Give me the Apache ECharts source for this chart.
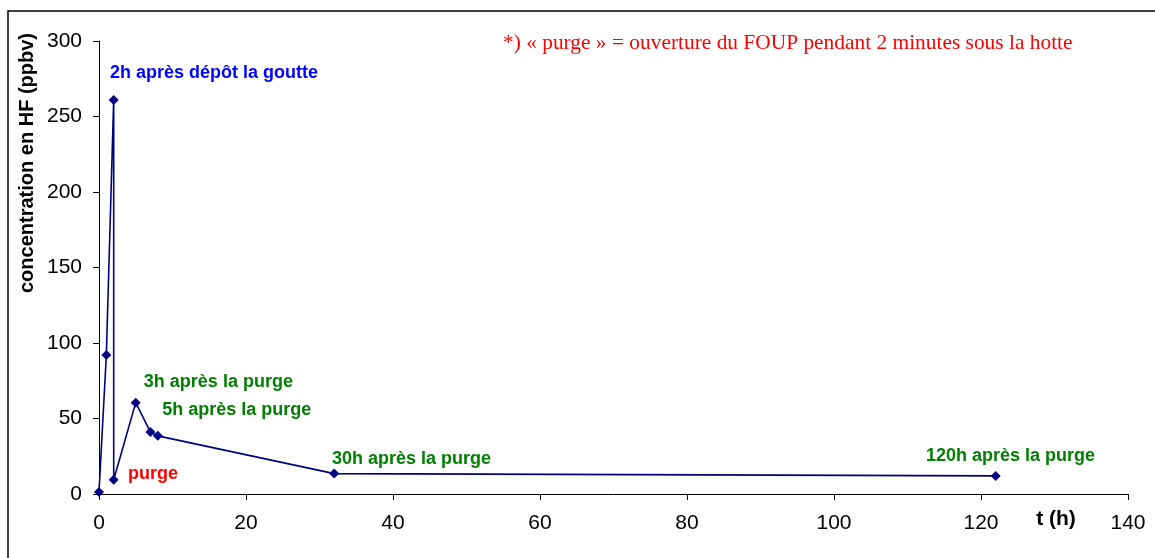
<!DOCTYPE html>
<html>
<head>
<meta charset="utf-8">
<script src="https://cdn.jsdelivr.net/npm/echarts@6/dist/echarts.min.js"></script>
<style>html,body{margin:0;padding:0;background:#fff}#c{width:1155px;height:558px}</style>
</head>
<body>
<div id="c"></div>
<script>
// Data
var tHours = [0, 1, 2, 2, 5, 7, 8, 32, 122];
var concHF = [1.3, 92, 261, 9.5, 60.5, 41, 38.5, 13.5, 12];
var annotTexts = ['2h après dépôt la goutte', 'purge', '3h après la purge', '5h après la purge', '30h après la purge', '120h après la purge'];
var annotX = [1.5, 3.95, 6.1, 8.6, 31.7, 112.5];
var annotY = [279, 13.2, 74.2, 55.6, 23.2, 25.2];
var annotColors = ['#0000ff', '#ff0000', '#008000', '#008000', '#008000', '#008000'];
var xTicks = [0, 20, 40, 60, 80, 100, 120, 140];
var yTicks = [0, 50, 100, 150, 200, 250, 300];
var noteText = '*) « purge » = ouverture du FOUP pendant 2 minutes sous la hotte';
var yName = 'concentration en HF (ppbv)';
var xName = 't (h)';

var chart = echarts.init(document.getElementById('c'), null, {renderer: 'canvas'});
var lineData = tHours.map(function (t, i) { return [t, concHF[i]]; });
var annotData = annotTexts.map(function (s, i) {
  return {
    value: [annotX[i], annotY[i]],
    label: {show: true, formatter: s, color: annotColors[i]}
  };
});

var option = {
  animation: false,
  backgroundColor: '#fff',
  grid: {left: 99, right: 27, top: 41, bottom: 64},
  xAxis: {
    type: 'value', min: 0, max: 140, interval: 20,
    axisLine: {show: true, lineStyle: {color: '#000', width: 1}},
    axisTick: {show: true, length: 6, lineStyle: {color: '#000'}},
    axisLabel: {fontFamily: 'Liberation Sans, Arial', fontSize: 21, color: '#000', margin: 19},
    splitLine: {show: false}
  },
  yAxis: {
    type: 'value', min: 0, max: 300, interval: 50,
    axisLine: {show: true, lineStyle: {color: '#000', width: 1}},
    axisTick: {show: true, length: 6, lineStyle: {color: '#000'}},
    axisLabel: {fontFamily: 'Liberation Sans, Arial', fontSize: 21, color: '#000', margin: 17},
    splitLine: {show: false}
  },
  series: [
    {
      type: 'line',
      data: lineData,
      symbol: 'diamond',
      symbolSize: 10,
      lineStyle: {color: '#000080', width: 1.6},
      itemStyle: {color: '#000080'}
    },
    {
      type: 'scatter',
      data: annotData,
      symbolSize: 0,
      silent: true,
      itemStyle: {opacity: 1},
      label: {
        show: true, position: 'right', distance: 0,
        fontFamily: 'Liberation Sans, Arial', fontWeight: 'bold', fontSize: 18
      }
    }
  ],
  graphic: [
    {type: 'rect', shape: {x: 8, y: 11, width: 1200, height: 600}, style: {fill: 'none', stroke: '#000', lineWidth: 1.5}, silent: true},
    {type: 'text', left: 503, top: 33, style: {text: noteText, fill: '#ff0000', font: '21.4px "Liberation Serif", "Times New Roman", serif'}},
    {type: 'text', x: 27, y: 163, rotation: Math.PI / 2,
      style: {text: yName, fill: '#000', font: 'bold 20px "Liberation Sans", Arial', textAlign: 'center', textVerticalAlign: 'middle'}},
    {type: 'text', x: 1056, y: 519,
      style: {text: xName, fill: '#000', font: 'bold 21px "Liberation Sans", Arial', textAlign: 'center', textVerticalAlign: 'middle'}}
  ]
};
chart.setOption(option);
</script>
</body>
</html>
